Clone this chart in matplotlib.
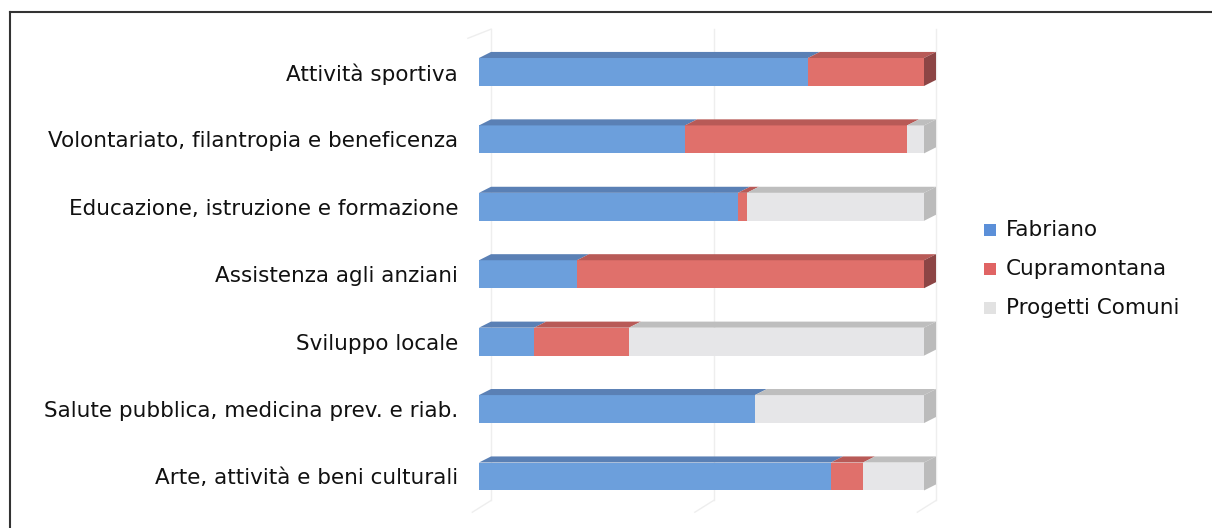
import matplotlib
matplotlib.use("Agg")
from matplotlib import pyplot as plt
from matplotlib.patches import Polygon, Rectangle
from matplotlib.lines import Line2D

# categories from bottom to top
categories = ["Arte, attività e beni culturali",
              "Salute pubblica, medicina prev. e riab.",
              "Sviluppo locale",
              "Assistenza agli anziani",
              "Educazione, istruzione e formazione",
              "Volontariato, filantropia e beneficenza",
              "Attività sportiva"]
fabriano = [79.1, 62.0, 12.4, 22.0, 58.2, 46.3, 73.9]
cupramontana = [7.2, 0.0, 21.3, 78.0, 2.0, 49.9, 26.1]
progetti = [13.7, 38.0, 66.3, 0.0, 39.8, 3.8, 0.0]
series_names = ["Fabriano", "Cupramontana", "Progetti Comuni"]

front = ["#6C9FDC", "#E0706B", "#E6E6E8"]
top = ["#5A80B5", "#B85A57", "#BEBEBE"]
side = ["#4C6E9C", "#8C4545", "#BBBBBB"]

plt.rcParams['font.family'] = ['DejaVu Sans']

fig = plt.figure(figsize=(12.12, 5.28), dpi=100)
ax = fig.add_axes([479/1212, 0.0337, 445/1212, 0.8938])

h = 0.415
dx = 2.7
dy = 0.09

# faint 3d walls
wall = "#EEEEEE"
for xv in [dx, 50 + dx, 100 + dx]:
    ax.add_line(Line2D([xv, xv], [-0.5 + dy * 1.6, 6.5 + dy * 1.5], color=wall, lw=1, clip_on=False))
for xv in [0, 50, 100]:
    ax.add_line(Line2D([xv - 1.5, xv + dx], [-0.5 - 0.03, -0.5 + dy * 1.6], color=wall, lw=1, clip_on=False))
ax.add_line(Line2D([-2.5, dx], [6.5 + 0.0, 6.5 + dy * 1.5], color=wall, lw=1, clip_on=False))

data = [fabriano, cupramontana, progetti]
for i, cat in enumerate(categories):
    left = 0
    for s in range(3):
        w = data[s][i]
        if w <= 0:
            continue
        ax.barh(i, w, left=left, height=h, color=front[s], edgecolor="none", zorder=3)
        yt = i + h / 2
        ax.add_patch(Polygon([[left, yt], [left + w, yt], [left + w + dx, yt + dy], [left + dx, yt + dy]],
                             closed=True, facecolor=top[s], edgecolor="none", zorder=3, clip_on=False))
        left += w
    # side face at end
    last = [s for s in range(3) if data[s][i] > 0][-1]
    ax.add_patch(Polygon([[100, i - h / 2], [100 + dx, i - h / 2 + dy], [100 + dx, i + h / 2 + dy], [100, i + h / 2]],
                         closed=True, facecolor=side[last], edgecolor="none", zorder=3, clip_on=False))

ax.set_xlim(0, 100)
ax.set_ylim(-0.5, 6.5)
ax.set_yticks(range(len(categories)))
ax.set_yticklabels(categories, fontsize=15.5, color="#111111")
ax.tick_params(axis="y", length=0, pad=15)
ax.set_xticks([])
for sp in ax.spines.values():
    sp.set_visible(False)

# legend
for k, name in enumerate(series_names):
    yk = 1 - (230 + k * 39) / 528
    fig.patches.append(Rectangle((984/1212, yk - 0.012), 12/1212, 12/528, transform=fig.transFigure,
                                 facecolor=["#5B8FD8", "#E06464", "#E2E2E2"][k], edgecolor="none"))
    fig.text(1006/1212, yk, name, fontsize=15.5, va="center", ha="left", color="#111111")

# outer frame
fig.add_artist(Line2D([10/1212, 10/1212], [0, 1 - 12/528], color="#333333", lw=1.5, transform=fig.transFigure))
fig.add_artist(Line2D([10/1212, 1], [1 - 12/528, 1 - 12/528], color="#333333", lw=1.5, transform=fig.transFigure))

fig.savefig("out.png", dpi=100)
